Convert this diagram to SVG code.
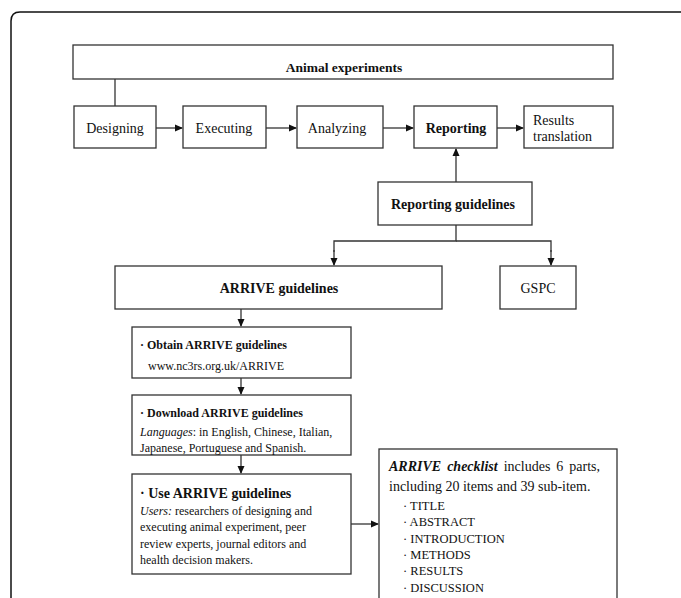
<svg xmlns="http://www.w3.org/2000/svg" width="681" height="598" viewBox="0 0 681 598">
<style>
.box{fill:#fff;stroke:#333;stroke-width:1.3}
.t{font-family:"Liberation Serif","Times New Roman",serif;fill:#111}
.c{text-anchor:middle}
.b{font-weight:bold}
.line{fill:none;stroke:#333;stroke-width:1.3}
.arr{fill:none;stroke:#333;stroke-width:1.3;marker-end:url(#ah)}
</style>
<defs>
<marker id="ah" markerWidth="8" markerHeight="8" refX="7" refY="4" orient="auto" markerUnits="userSpaceOnUse">
<path d="M0,0.5 L8,4 L0,7.5 Z" fill="#111"/>
</marker>
</defs>
<rect width="681" height="598" fill="#fff"/>
<path d="M11,620 L11,21 Q11,12 20,12 L700,12" fill="none" stroke="#111" stroke-width="1.5"/>

<g id="connectors">
<line class="line" x1="115" y1="79" x2="115" y2="106"/>
<line class="arr" x1="156" y1="128" x2="182" y2="128"/>
<line class="arr" x1="266" y1="128" x2="296" y2="128"/>
<line class="arr" x1="383" y1="128" x2="413" y2="128"/>
<line class="arr" x1="497" y1="128" x2="523" y2="128"/>
<line class="arr" x1="456" y1="182" x2="456" y2="149"/>
<polyline class="line" points="456,225 456,241 334,241 334,252"/>
<line class="arr" x1="334" y1="250" x2="334" y2="265"/>
<polyline class="line" points="456,241 551,241 551,252"/>
<line class="arr" x1="551" y1="250" x2="551" y2="265"/>
<line class="arr" x1="241" y1="309" x2="241" y2="326"/>
<line class="arr" x1="241" y1="378" x2="241" y2="394"/>
<line class="arr" x1="241" y1="455" x2="241" y2="473"/>
<line class="arr" x1="351" y1="524" x2="378" y2="524"/>
</g>

<g id="animal-experiments">
<rect class="box" x="73" y="45" width="540" height="34"/>
<text class="t c b" x="344" y="72" font-size="13.5">Animal experiments</text>
</g>
<g id="designing">
<rect class="box" x="74" y="106" width="82" height="42"/>
<text class="t c" x="115" y="133" font-size="14">Designing</text>
</g>
<g id="executing">
<rect class="box" x="183" y="106" width="83" height="42"/>
<text class="t c" x="224" y="133" font-size="14">Executing</text>
</g>
<g id="analyzing">
<rect class="box" x="297" y="106" width="86" height="42"/>
<text class="t c" x="337" y="133" font-size="14">Analyzing</text>
</g>
<g id="reporting">
<rect class="box" x="414" y="106" width="83" height="42"/>
<text class="t c b" x="456" y="133" font-size="14">Reporting</text>
</g>
<g id="results-translation">
<rect class="box" x="524" y="106" width="89" height="42"/>
<text class="t" x="533" y="125" font-size="14">Results</text>
<text class="t" x="533" y="141" font-size="14">translation</text>
</g>
<g id="reporting-guidelines">
<rect class="box" x="378" y="182" width="154" height="43"/>
<text class="t c b" x="453" y="209" font-size="14">Reporting guidelines</text>
</g>
<g id="arrive-guidelines">
<rect class="box" x="115" y="266" width="327" height="43"/>
<text class="t c b" x="279" y="293" font-size="14">ARRIVE guidelines</text>
</g>
<g id="gspc">
<rect class="box" x="500" y="266" width="76" height="43"/>
<text class="t c" x="538" y="293" font-size="14">GSPC</text>
</g>
<g id="obtain">
<rect class="box" x="132" y="327" width="219" height="51"/>
<text class="t b" x="140" y="349" font-size="12">· Obtain ARRIVE guidelines</text>
<text class="t" x="148" y="370" font-size="12">www.nc3rs.org.uk/ARRIVE</text>
</g>
<g id="download">
<rect class="box" x="132" y="395" width="219" height="60"/>
<text class="t b" x="140" y="417" font-size="12">· Download ARRIVE guidelines</text>
<text class="t" x="140" y="436" font-size="12"><tspan font-style="italic">Languages</tspan>: in English, Chinese, Italian,</text>
<text class="t" x="140" y="452" font-size="12">Japanese, Portuguese and Spanish.</text>
</g>
<g id="use">
<rect class="box" x="132" y="474" width="219" height="100"/>
<text class="t b" x="140" y="498" font-size="14">· Use ARRIVE guidelines</text>
<text class="t" x="140" y="515" font-size="12"><tspan font-style="italic">Users:</tspan> researchers of designing and</text>
<text class="t" x="140" y="531" font-size="12">executing animal experiment, peer</text>
<text class="t" x="140" y="548" font-size="12">review experts, journal editors and</text>
<text class="t" x="140" y="564" font-size="12">health decision makers.</text>
</g>
<g id="checklist">
<rect class="box" x="379" y="449" width="238" height="170"/>
<text class="t" x="389" y="471" font-size="14" word-spacing="2.5"><tspan font-weight="bold" font-style="italic">ARRIVE checklist</tspan> includes 6 parts,</text>
<text class="t" x="389" y="491" font-size="14">including 20 items and 39 sub-item.</text>
<text class="t" x="403" y="510" font-size="12.5">· TITLE</text>
<text class="t" x="403" y="526" font-size="12.5">· ABSTRACT</text>
<text class="t" x="403" y="543" font-size="12.5">· INTRODUCTION</text>
<text class="t" x="403" y="559" font-size="12.5">· METHODS</text>
<text class="t" x="403" y="575" font-size="12.5">· RESULTS</text>
<text class="t" x="403" y="592" font-size="12.5">· DISCUSSION</text>
</g>
</svg>
